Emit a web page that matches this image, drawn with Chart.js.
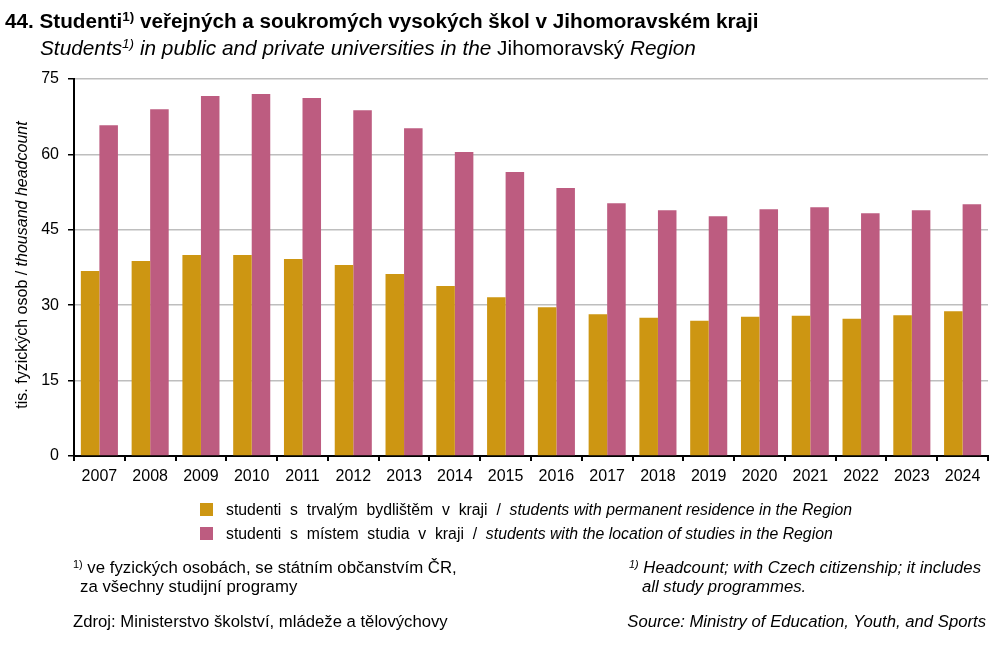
<!DOCTYPE html>
<html>
<head>
<meta charset="utf-8">
<script src="https://cdn.jsdelivr.net/npm/chart.js@4"></script>
<style>
  html,body{margin:0;padding:0;background:#fff;}
  body{width:1005px;height:647px;position:relative;overflow:hidden;font-family:"Liberation Sans",Arial,sans-serif;color:#000;}
  #wrap{position:absolute;left:0;top:0;width:1005px;height:647px;}
  .t{position:absolute;white-space:nowrap;}
  sup{font-size:0.65em;vertical-align:0;position:relative;top:-0.5em;}
  .lg{position:absolute;width:13px;height:13px;}
</style>
</head>
<body>
<div id="wrap"><canvas id="c" width="1005" height="647"></canvas></div>
<div class="t" style="left:5px;top:9px;font-size:20.7px;font-weight:bold;">44. Studenti<sup>1)</sup> veřejných a soukromých vysokých škol v Jihomoravském kraji</div>
<div class="t" style="left:40px;top:36px;font-size:20.8px;"><i>Students<sup>1)</sup> in public and private universities in the</i> Jihomoravský <i>Region</i></div>

<div class="lg" style="left:200px;top:503px;background:#CD9612;"></div>
<div class="t" style="left:226px;top:501px;font-size:15.8px;">studenti&nbsp; s&nbsp; trvalým&nbsp; bydlištěm&nbsp; v&nbsp; kraji&nbsp; /&nbsp; <i>students with permanent residence in the Region</i></div>
<div class="lg" style="left:200px;top:527px;background:#BD5C80;"></div>
<div class="t" style="left:226px;top:525px;font-size:15.8px;">studenti&nbsp; s&nbsp; místem&nbsp; studia&nbsp; v&nbsp; kraji&nbsp; /&nbsp; <i>students with the location of studies in the Region</i></div>

<div class="t" style="left:73px;top:558px;font-size:16.8px;"><sup>1)</sup> ve fyzických osobách, se státním občanstvím ČR,</div>
<div class="t" style="left:80px;top:577px;font-size:16.8px;">za všechny studijní programy</div>
<div class="t" style="right:24px;top:558px;font-size:16.7px;font-style:italic;"><sup>1)</sup> Headcount; with Czech citizenship; it includes</div>
<div class="t" style="left:642px;top:577px;font-size:16.7px;font-style:italic;">all study programmes.</div>
<div class="t" style="left:73px;top:612px;font-size:16.7px;">Zdroj: Ministerstvo školství, mládeže a tělovýchovy</div>
<div class="t" style="right:19px;top:612px;font-size:16.7px;font-style:italic;">Source: Ministry of Education, Youth, and Sports</div>

<script>
const years = ["2007","2008","2009","2010","2011","2012","2013","2014","2015","2016","2017","2018","2019","2020","2021","2022","2023","2024"];
const residence = [36.8,38.8,40.0,40.0,39.2,38.0,36.2,33.8,31.6,29.6,28.2,27.5,26.9,27.7,27.9,27.3,28.0,28.8];
const studyLocation = [65.8,69.0,71.6,72.0,71.2,68.8,65.2,60.5,56.5,53.3,50.3,48.9,47.7,49.1,49.5,48.3,48.9,50.1];
const yTicks = [0,15,30,45,60,75];
const seriesNames = ["studenti s trvalým bydlištěm v kraji / students with permanent residence in the Region",
                     "studenti s místem studia v kraji / students with the location of studies in the Region"];

const yTitlePlugin = {
  id: 'yTitle',
  afterDraw(chart) {
    const ctx = chart.ctx;
    ctx.save();
    ctx.translate(23, 265);
    ctx.rotate(-Math.PI/2);
    ctx.fillStyle = '#000';
    ctx.textBaseline = 'middle';
    const p1 = 'tis. fyzických osob / ';
    const p2 = 'thousand headcount';
    const f1 = '16px "Liberation Sans", Arial, sans-serif';
    const f2 = 'italic 16px "Liberation Sans", Arial, sans-serif';
    ctx.font = f1;
    const w1 = ctx.measureText(p1).width;
    ctx.font = f2;
    const w2 = ctx.measureText(p2).width;
    const x = -(w1 + w2)/2;
    ctx.textAlign = 'left';
    ctx.font = f1;
    ctx.fillText(p1, x, 0);
    ctx.font = f2;
    ctx.fillText(p2, x + w1, 0);
    ctx.restore();
  }
};

new Chart(document.getElementById('c'), {
  type: 'bar',
  data: {
    labels: years,
    datasets: [
      {label: seriesNames[0], data: residence, backgroundColor: '#CD9612', categoryPercentage: 0.73, barPercentage: 1.0},
      {label: seriesNames[1], data: studyLocation, backgroundColor: '#BD5C80', categoryPercentage: 0.73, barPercentage: 1.0}
    ]
  },
  options: {
    responsive: false,
    animation: false,
    devicePixelRatio: 1,
    layout: {padding: {left: 0, right: 17, top: 79, bottom: 0}},
    plugins: {legend: {display: false}, tooltip: {enabled: false}, title: {display: false}},
    scales: {
      x: {
        afterFit(s) { s.height = 191; },
        grid: {drawOnChartArea: false, offset: true, tickColor: '#000', tickLength: 5, lineWidth: 2},
        border: {color: '#000', width: 2},
        ticks: {color: '#000', font: {family: '"Liberation Sans", Arial, sans-serif', size: 16}, padding: 6, maxRotation: 0, autoSkip: false}
      },
      y: {
        min: 0, max: 75,
        afterFit(s) { s.width = 74; },
        afterBuildTicks(s) { s.ticks = yTicks.map(v => ({value: v})); },
        grid: {color: '#BEBEBE', lineWidth: 1.5, tickColor: '#000', tickLength: 6},
        border: {color: '#000', width: 2},
        ticks: {color: '#000', font: {family: '"Liberation Sans", Arial, sans-serif', size: 16}, padding: 9}
      }
    }
  },
  plugins: [yTitlePlugin]
});
</script>
</body>
</html>
